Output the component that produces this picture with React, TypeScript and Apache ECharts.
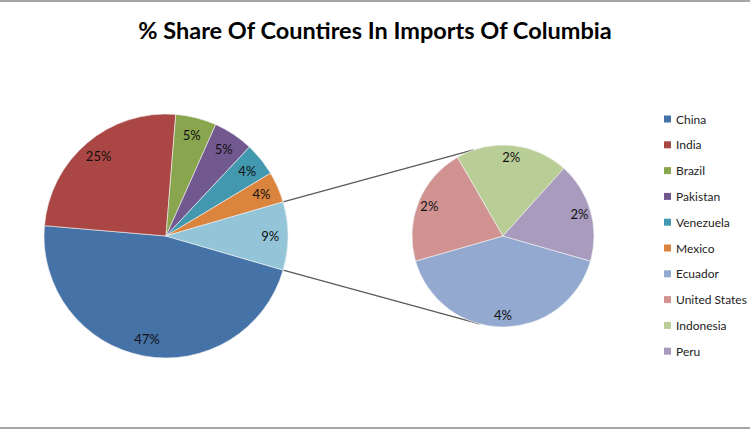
import React, { useEffect, useRef } from "react";
import * as echarts from "echarts";

const mainNames = ["China", "India", "Brazil", "Pakistan", "Venezuela", "Mexico"];
const mainValues = [46.8, 24.9, 5.4, 5.3, 4.4, 4.1];
const mainColors = ["#4572A7", "#AA4643", "#89A54E", "#71588F", "#4198AF", "#DB843D"];
const otherName = "Other";
const otherColor = "#93C4D8";

const subNames = ["Ecuador", "United States", "Indonesia", "Peru"];
const subValues = [3.7, 1.9, 1.8, 1.6];
const subColors = ["#93A9CF", "#D19392", "#B9CD96", "#A99BBD"];

const titleText = "% Share Of Countires In Imports Of Columbia";

export default function App() {
  const ref = useRef<HTMLDivElement>(null);

  useEffect(() => {
    document.body.style.margin = "0";
    if (!ref.current) return;
    const chart = echarts.init(ref.current, undefined, { renderer: "svg" });

    const otherValue = subValues.reduce((a, b) => a + b, 0);
    const grand = mainValues.reduce((a, b) => a + b, 0) + otherValue;
    const subTotal = otherValue;

    const c1 = [166, 236];
    const r1 = 122;
    const c2 = [503, 236];
    const r2 = 91;

    const otherAngle = (otherValue / grand) * 360;
    const start1 = -otherAngle / 2;
    const ecuadorAngle = (subValues[0] / subTotal) * 360;
    const start2 = -90 + ecuadorAngle / 2;

    const mainData = mainNames
      .map((n, i) => ({ name: n, value: mainValues[i], itemStyle: { color: mainColors[i] } }))
      .concat([{ name: otherName, value: otherValue, itemStyle: { color: otherColor } }]);
    const subData = subNames.map((n, i) => ({
      name: n,
      value: subValues[i],
      itemStyle: { color: subColors[i] },
    }));

    const pctFmt = (p: any) => Math.round((p.value / grand) * 100) + "%";
    const labelStyle = {
      show: true,
      position: "inside",
      formatter: pctFmt,
      fontFamily: "Lato, 'Open Sans', sans-serif",
      fontSize: 13,
      color: "#111",
    };

    const toRad = (d: number) => (d * Math.PI) / 180;
    const pt = (c: number[], r: number, deg: number) => [
      c[0] + r * Math.cos(toRad(deg)),
      c[1] - r * Math.sin(toRad(deg)),
    ];
    const a1Top = pt(c1, r1, otherAngle / 2);
    const a1Bot = pt(c1, r1, -otherAngle / 2);
    const a2Top = pt(c2, r2, 109);
    const a2Bot = pt(c2, r2, -105);

    const pieBase = {
      type: "pie",
      clockwise: true,
      avoidLabelOverlap: false,
      labelLine: { show: false },
      emphasis: { disabled: true },
    };

    chart.setOption({
      animation: false,
      title: {
        text: titleText,
        left: "center",
        top: 13,
        textStyle: {
          fontFamily: "Lato, 'Open Sans', sans-serif",
          fontWeight: "bold",
          fontSize: 23.5,
          color: "#000",
        },
      },
      legend: {
        orient: "vertical",
        left: 659,
        top: 107,
        itemWidth: 7,
        itemHeight: 7,
        itemGap: 11.8,
        icon: "rect",
        data: mainNames.concat(subNames),
        itemStyle: { borderWidth: 0 },
        textStyle: {
          fontFamily: "Lato, 'Open Sans', sans-serif",
          fontSize: 12,
          color: "#222",
          lineHeight: 14,
        },
        selectedMode: false,
      },
      graphic: [
        { type: "rect", shape: { x: 0, y: 0, width: 750, height: 2 }, style: { fill: "#a6a6a6" } },
        { type: "rect", shape: { x: 0, y: 427, width: 750, height: 2 }, style: { fill: "#a6a6a6" } },
        {
          type: "line",
          shape: { x1: a1Top[0], y1: a1Top[1], x2: a2Top[0], y2: a2Top[1] },
          style: { stroke: "#5a5a5a", lineWidth: 1.3 },
        },
        {
          type: "line",
          shape: { x1: a1Bot[0], y1: a1Bot[1], x2: a2Bot[0], y2: a2Bot[1] },
          style: { stroke: "#5a5a5a", lineWidth: 1.3 },
        },
      ],
      series: [
        {
          ...pieBase,
          name: "main",
          center: c1,
          radius: [0, r1],
          startAngle: start1,
          data: mainData,
          label: { show: false },
          itemStyle: { borderColor: "#f4f4f4", borderWidth: 0.6 },
        },
        {
          ...pieBase,
          name: "sub",
          center: c2,
          radius: [0, r2],
          startAngle: start2,
          data: subData,
          label: { show: false },
          itemStyle: { borderColor: "#f4f4f4", borderWidth: 0.6 },
        },
        {
          ...pieBase,
          name: "mainLabels",
          silent: true,
          center: c1,
          radius: [r1 * 0.66, r1],
          startAngle: start1,
          data: mainData.map((d) => ({ ...d, itemStyle: { color: "rgba(0,0,0,0)" } })),
          label: labelStyle,
          itemStyle: { borderWidth: 0 },
        },
        {
          ...pieBase,
          name: "subLabels",
          silent: true,
          center: c2,
          radius: [r2 * 0.68, r2],
          startAngle: start2,
          data: subData.map((d) => ({ ...d, itemStyle: { color: "rgba(0,0,0,0)" } })),
          label: labelStyle,
          itemStyle: { borderWidth: 0 },
        },
      ],
    });

    return () => chart.dispose();
  }, []);

  return <div ref={ref} style={{ width: 750, height: 430 }} />;
}
